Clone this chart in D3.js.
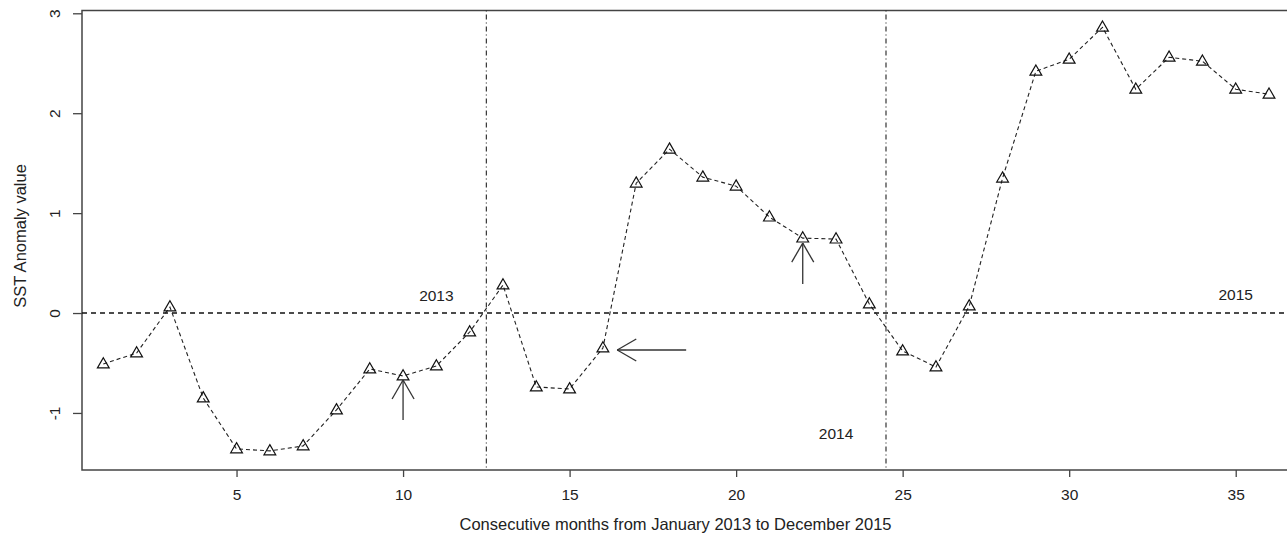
<!DOCTYPE html>
<html>
<head>
<meta charset="utf-8">
<script src="https://cdn.jsdelivr.net/npm/d3@7"></script>
<style>
  body { margin: 0; background: #fff; }
  svg { display: block; font-family: "Liberation Sans", Arial, sans-serif; }
</style>
</head>
<body>
<div id="chart"></div>
<script>
// monthly SST anomaly, Jan 2013 .. Dec 2015
const months = d3.range(1, 37);
const anomaly = [
  -0.51, -0.40, 0.06, -0.85, -1.36, -1.38, -1.33, -0.97, -0.56, -0.63, -0.53, -0.19,
  0.28, -0.74, -0.76, -0.35, 1.30, 1.64, 1.36, 1.27, 0.96, 0.75, 0.74, 0.09,
  -0.38, -0.54, 0.07, 1.35, 2.42, 2.54, 2.86, 2.24, 2.56, 2.52, 2.24, 2.19
];
const xTicks = [5, 10, 15, 20, 25, 30, 35];
const yTicks = [-1, 0, 1, 2, 3];
const yearBreaks = [12.5, 24.5];
const yearLabels = [
  { x: 11, y: 0.18, text: "2013" },
  { x: 23, y: -1.21, text: "2014" },
  { x: 35, y: 0.19, text: "2015" }
];
// arrows: from (x0,y0) to tip (x1,y1)
const arrows = [
  { x0: 10, y0: -1.07, x1: 10, y1: -0.67 },
  { x0: 18.5, y0: -0.37, x1: 16.43, y1: -0.37 },
  { x0: 22, y0: 0.29, x1: 22, y1: 0.70 }
];

const width = 1287, height = 545;
const svg = d3.select('#chart').append('svg')
  .attr('width', width)
  .attr('height', height);

const x = d3.scaleLinear().domain([0.36, 36.6]).range([82, 1289]);
const y = d3.scaleLinear().domain([-1.571, 3.028]).range([470, 10.5]);

const ink = '#222';

// plot box (right side runs off the picture)
svg.append('rect')
  .attr('x', x(0.36)).attr('y', y(3.028))
  .attr('width', x(36.6) - x(0.36) + 10)
  .attr('height', y(-1.571) - y(3.028))
  .attr('fill', 'none')
  .attr('stroke', '#444')
  .attr('stroke-width', 1.5);

// axes
const xAxis = svg.append('g')
  .attr('transform', `translate(0,${y(-1.571)})`)
  .call(d3.axisBottom(x).tickValues(xTicks).tickSize(7).tickPadding(12));
const yAxis = svg.append('g')
  .attr('transform', `translate(${x(0.36)},0)`)
  .call(d3.axisLeft(y).tickValues(yTicks).tickSize(9).tickFormat(d => String(d)));

[xAxis, yAxis].forEach(g => {
  g.select('.domain').remove();
  g.selectAll('line').attr('stroke', '#444').attr('stroke-width', 1.3);
  g.selectAll('text').attr('fill', ink).attr('font-size', 15.5)
    .attr('font-family', '"Liberation Sans", Arial, sans-serif');
});
yAxis.selectAll('text')
  .attr('text-anchor', 'middle')
  .attr('x', null).attr('dy', null)
  .attr('transform', 'translate(-28,0) rotate(-90)')
  .attr('dominant-baseline', 'central');

// axis titles
svg.append('text')
  .attr('x', (x(0.36) + 1269) / 2).attr('y', 524)
  .attr('text-anchor', 'middle').attr('dominant-baseline', 'central')
  .attr('font-size', 16.5).attr('fill', ink)
  .text('Consecutive months from January 2013 to December 2015');
svg.append('text')
  .attr('transform', `translate(20,236) rotate(-90)`)
  .attr('text-anchor', 'middle').attr('dominant-baseline', 'central')
  .attr('font-size', 16.5).attr('fill', ink)
  .text('SST Anomaly value');

// zero reference line
svg.append('line')
  .attr('x1', x(0.36)).attr('x2', width)
  .attr('y1', y(0)).attr('y2', y(0))
  .attr('stroke', '#111').attr('stroke-width', 1.4)
  .attr('stroke-dasharray', '5 4');

// year separators
svg.selectAll('.sep')
  .data(yearBreaks)
  .enter().append('line')
  .attr('class', 'sep')
  .attr('x1', d => x(d)).attr('x2', d => x(d))
  .attr('y1', y(3.028)).attr('y2', y(-1.571))
  .attr('stroke', '#222').attr('stroke-width', 1.1)
  .attr('stroke-dasharray', '1 3 5 3');

// series line
const line = d3.line().x((d, i) => x(months[i])).y(d => y(d));
svg.append('path')
  .datum(anomaly)
  .attr('d', line)
  .attr('fill', 'none')
  .attr('stroke', '#222')
  .attr('stroke-width', 1.1)
  .attr('stroke-dasharray', '4 3');

// triangle markers (open, line shows through)
const tri = d3.symbol().type(d3.symbolTriangle).size(60);
svg.selectAll('.pt')
  .data(anomaly)
  .enter().append('path')
  .attr('class', 'pt')
  .attr('d', tri)
  .attr('transform', (d, i) => `translate(${x(months[i])},${y(d) + 0.5})`)
  .attr('fill', 'none')
  .attr('stroke', '#111')
  .attr('stroke-width', 1.2);

// year labels
svg.selectAll('.yr')
  .data(yearLabels)
  .enter().append('text')
  .attr('class', 'yr')
  .attr('x', d => x(d.x)).attr('y', d => y(d.y))
  .attr('text-anchor', 'middle').attr('dominant-baseline', 'central')
  .attr('font-size', 15.5).attr('fill', ink)
  .text(d => d.text);

// arrows
const headLen = 22, headAng = Math.PI / 6;
arrows.forEach(a => {
  const px0 = x(a.x0), py0 = y(a.y0), px1 = x(a.x1), py1 = y(a.y1);
  const ang = Math.atan2(py1 - py0, px1 - px0);
  const g = svg.append('g')
    .attr('stroke', '#333').attr('stroke-width', 1.3).attr('fill', 'none');
  g.append('line')
    .attr('x1', px0).attr('y1', py0).attr('x2', px1).attr('y2', py1);
  [-1, 1].forEach(s => {
    g.append('line')
      .attr('x1', px1).attr('y1', py1)
      .attr('x2', px1 - headLen * Math.cos(ang + s * headAng))
      .attr('y2', py1 - headLen * Math.sin(ang + s * headAng));
  });
});
</script>
</body>
</html>
